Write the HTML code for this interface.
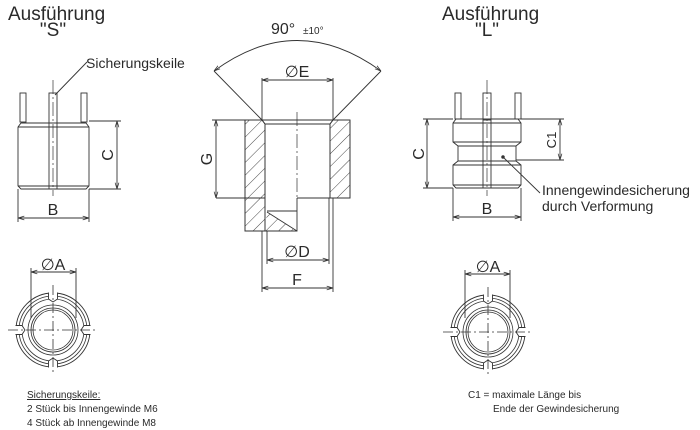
<!DOCTYPE html>
<html><head><meta charset="utf-8"><style>
html,body{margin:0;padding:0;background:#fff}
svg{display:block}
text{font-family:"Liberation Sans",sans-serif;fill:#2a2a2a}
</style></head><body>
<svg width="700" height="430" viewBox="0 0 700 430" xmlns="http://www.w3.org/2000/svg">
<defs>
<marker id="a" viewBox="0 0 10 10" refX="10" refY="5" markerWidth="7" markerHeight="7" orient="auto-start-reverse"><path d="M0,2 L10,5 L0,8" fill="none" stroke="#333" stroke-width="1.2"/></marker>
<pattern id="h" width="9" height="9" patternUnits="userSpaceOnUse" patternTransform="rotate(45)"><line x1="0" y1="0" x2="0" y2="9" stroke="#333" stroke-width="0.9"/></pattern>
<g id="notch">
<rect x="-4.5" y="-39" width="9" height="10" fill="#fff"/>
<path d="M-4.5,-37.5 L-4.5,-31 L0,-28 L4.5,-31 L4.5,-37.5" fill="none" stroke="#333" stroke-width="0.9"/>
</g>
<g id="ring">
<circle r="37" fill="none" stroke="#333" stroke-width="0.9"/>
<circle r="34" fill="none" stroke="#333" stroke-width="0.8"/>
<circle r="31" fill="none" stroke="#333" stroke-width="0.8"/>
<circle r="25" fill="none" stroke="#333" stroke-width="0.8"/>
<circle r="22" fill="none" stroke="#333" stroke-width="0.8"/>
<circle r="20" fill="none" stroke="#333" stroke-width="0.8"/>
<use href="#notch"/>
<use href="#notch" transform="rotate(90)"/>
<use href="#notch" transform="rotate(180)"/>
<use href="#notch" transform="rotate(270)"/>
<g stroke="#333" stroke-width="0.8" stroke-dasharray="10,3,2,3">
<line x1="-45" y1="0" x2="45" y2="0"/><line x1="0" y1="-45" x2="0" y2="45"/>
</g>
</g>
</defs>
<g stroke="#333" stroke-width="0.9" fill="none">
<rect x="20" y="93" width="6" height="29" fill="#fff"/>
<rect x="49" y="93" width="8" height="30"/>
<rect x="81" y="93" width="6" height="29" fill="#fff"/>
<path d="M21,123 L86,123 L89,127 L89,186 L86,189 L21,189 L18,186 L18,127 Z"/>
<line x1="18" y1="127" x2="89" y2="127"/><line x1="18" y1="186" x2="89" y2="186"/>
<line x1="49" y1="123" x2="49" y2="189"/><line x1="57" y1="123" x2="57" y2="189"/>
<line x1="53" y1="80" x2="53" y2="196" stroke-dasharray="14,3,2,3" stroke-width="0.7"/>
<line x1="55" y1="95" x2="87" y2="62"/>
<line x1="89" y1="121" x2="121" y2="121"/><line x1="89" y1="189" x2="121" y2="189"/>
<line x1="117" y1="121" x2="117" y2="189" marker-start="url(#a)" marker-end="url(#a)"/>
<line x1="18" y1="189" x2="18" y2="222"/><line x1="89" y1="189" x2="89" y2="222"/>
<line x1="18" y1="218" x2="89" y2="218" marker-start="url(#a)" marker-end="url(#a)"/>
<line x1="31" y1="268" x2="31" y2="318"/><line x1="76" y1="268" x2="76" y2="318"/>
<line x1="31" y1="272" x2="76" y2="272" marker-start="url(#a)" marker-end="url(#a)"/>
<path d="M245,120 L262,120 L265,124 L265,231 L245,231 Z" fill="url(#h)"/>
<path d="M333,120 L350,120 L350,198 L330,198 L330,124 Z" fill="url(#h)"/>
<path d="M267,212 L297,231 L265,231 Z" fill="url(#h)" stroke="none"/>
<path d="M245,120 L350,120 M350,120 L350,198 L297,198 M245,120 L245,231 L297,231 L297,198 M265,124 L265,231 M330,124 L330,198 M262,120 L265,124 M333,120 L330,124 M265,124 L330,124 M267,211 L297,211 M267,212 L297,231 M265,198 L216,198"/>
<line x1="297" y1="112" x2="297" y2="200" stroke-dasharray="14,3,2,3" stroke-width="0.7"/>
<line x1="262" y1="120" x2="214" y2="71"/><line x1="333" y1="120" x2="381" y2="71"/>
<path d="M214,71 Q297,10 381,71" marker-start="url(#a)" marker-end="url(#a)"/>
<line x1="262" y1="78" x2="262" y2="120"/><line x1="333" y1="78" x2="333" y2="120"/>
<line x1="262" y1="80" x2="333" y2="80" marker-start="url(#a)" marker-end="url(#a)"/>
<line x1="212" y1="120" x2="245" y2="120"/>
<line x1="216" y1="120" x2="216" y2="198" marker-start="url(#a)" marker-end="url(#a)"/>
<line x1="267" y1="231" x2="267" y2="264"/><line x1="329" y1="198" x2="329" y2="264"/>
<line x1="267" y1="260" x2="329" y2="260" marker-start="url(#a)" marker-end="url(#a)"/>
<line x1="262" y1="231" x2="262" y2="292"/><line x1="333" y1="198" x2="333" y2="292"/>
<line x1="262" y1="288" x2="333" y2="288" marker-start="url(#a)" marker-end="url(#a)"/>
<rect x="455" y="93" width="6" height="26" fill="#fff"/>
<rect x="483" y="93" width="8" height="27"/>
<rect x="515" y="93" width="6" height="26" fill="#fff"/>
<path d="M456,119 L518,119 L521,123 L521,142 L516,146 L516,161 L521,165 L521,185 L518,188 L456,188 L453,185 L453,165 L458,161 L458,146 L453,142 L453,123 Z"/>
<line x1="453" y1="123" x2="521" y2="123"/><line x1="453" y1="142" x2="521" y2="142"/>
<line x1="458" y1="146" x2="516" y2="146"/><line x1="458" y1="161" x2="516" y2="161"/>
<line x1="453" y1="165" x2="521" y2="165"/><line x1="453" y1="185" x2="521" y2="185"/>
<line x1="483" y1="120" x2="483" y2="188"/><line x1="491" y1="120" x2="491" y2="188"/>
<line x1="487" y1="80" x2="487" y2="196" stroke-dasharray="14,3,2,3" stroke-width="0.7"/>
<circle cx="503" cy="157" r="1.3" fill="#333"/>
<line x1="503" y1="157" x2="540" y2="193"/>
<line x1="423" y1="119" x2="453" y2="119"/><line x1="423" y1="188" x2="453" y2="188"/>
<line x1="427" y1="119" x2="427" y2="188" marker-start="url(#a)" marker-end="url(#a)"/>
<line x1="521" y1="119" x2="564" y2="119"/><line x1="516" y1="160" x2="564" y2="160"/>
<line x1="560" y1="119" x2="560" y2="160" marker-start="url(#a)" marker-end="url(#a)"/>
<line x1="453" y1="188" x2="453" y2="221"/><line x1="521" y1="188" x2="521" y2="221"/>
<line x1="453" y1="217" x2="521" y2="217" marker-start="url(#a)" marker-end="url(#a)"/>
<line x1="465" y1="270" x2="465" y2="318"/><line x1="510" y1="270" x2="510" y2="318"/>
<line x1="465" y1="274" x2="510" y2="274" marker-start="url(#a)" marker-end="url(#a)"/>
</g>
<use href="#ring" x="53" y="330"/>
<use href="#ring" x="488" y="332"/>
<text x="8" y="20" font-size="19">Ausführung</text>
<text x="53" y="36" font-size="19" text-anchor="middle">"S"</text>
<text x="442" y="20" font-size="19">Ausführung</text>
<text x="487" y="36" font-size="19" text-anchor="middle">"L"</text>
<text x="86" y="68" font-size="14">Sicherungskeile</text>
<text x="271" y="34" font-size="16">90°</text>
<text x="303" y="34" font-size="10">±10°</text>
<text x="297" y="77" font-size="16" text-anchor="middle">∅E</text>
<text x="297" y="257" font-size="16" text-anchor="middle">∅D</text>
<text x="297" y="285" font-size="16" text-anchor="middle">F</text>
<text x="53" y="215" font-size="16" text-anchor="middle">B</text>
<text x="487" y="214" font-size="16" text-anchor="middle">B</text>
<text x="53" y="270" font-size="16" text-anchor="middle">∅A</text>
<text x="488" y="272" font-size="16" text-anchor="middle">∅A</text>
<text font-size="16" text-anchor="middle" transform="translate(113,155) rotate(-90)">C</text>
<text font-size="16" text-anchor="middle" transform="translate(424,154) rotate(-90)">C</text>
<text font-size="16" text-anchor="middle" transform="translate(212,159) rotate(-90)">G</text>
<text font-size="13" text-anchor="middle" transform="translate(556,140) rotate(-90)">C1</text>
<text x="542" y="195" font-size="14">Innengewindesicherung</text>
<text x="542" y="211" font-size="14">durch Verformung</text>
<text x="27" y="398" font-size="10" text-decoration="underline">Sicherungskeile:</text>
<text x="27" y="412" font-size="10">2 Stück bis Innengewinde M6</text>
<text x="27" y="426" font-size="10">4 Stück ab Innengewinde M8</text>
<text x="468" y="398" font-size="10">C1 = maximale Länge bis</text>
<text x="493" y="412" font-size="10">Ende der Gewindesicherung</text>
</svg>
</body></html>
